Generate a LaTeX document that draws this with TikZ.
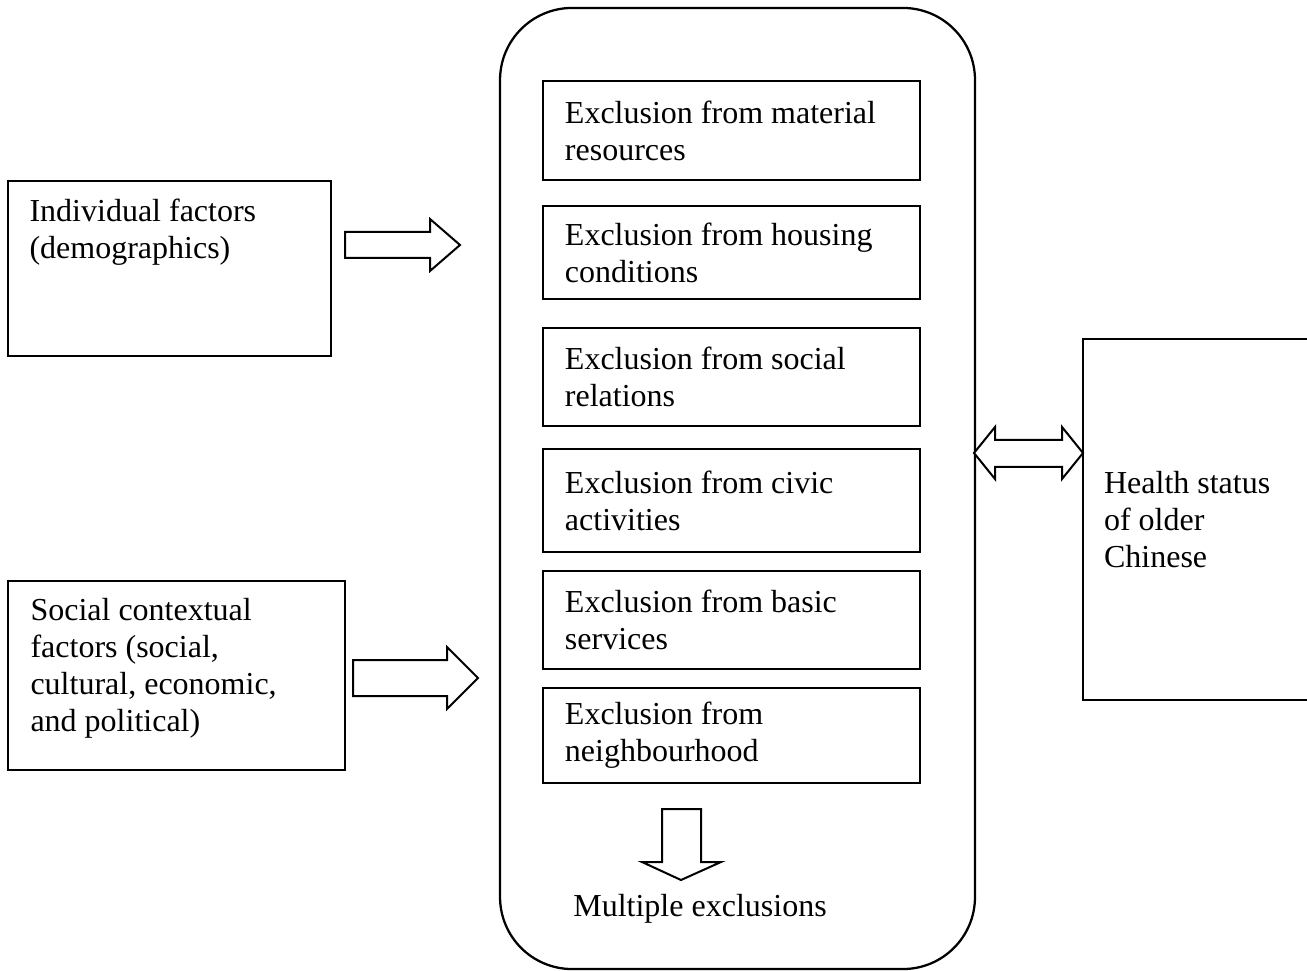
\documentclass[tikz,border=0pt]{standalone}
\usepackage{fontspec}
\setmainfont{Liberation Serif}
\usepackage{tikz}
\usetikzlibrary{positioning}
\tikzstyle{factor} = [rectangle, draw=black, line width=0.75pt, inner sep=0pt]
\tikzstyle{txt} = [inner sep=0pt, align=flush left, font=\fontsize{12}{13.9}\selectfont]
\tikzstyle{excl} = [rectangle, draw=black, line width=0.75pt, minimum width=141.4pt, text width=124.9pt, inner xsep=8.25pt, align=flush left, font=\fontsize{12}{13.9}\selectfont]
\tikzstyle{outer} = [rectangle, rounded corners=27pt, draw=black, line width=0.85pt, minimum width=178.1pt, minimum height=360.4pt]
\tikzstyle{blockarrow} = [draw=black, line width=0.75pt, fill=white, line join=miter]

\begin{document}
\begin{tikzpicture}[x=0.375pt, y=0.375pt]
            \useasboundingbox (0,0) rectangle (1307,-971);
            % Left factors
            \node (indiv) [factor, minimum width=121.1pt, minimum height=65.6pt] at (169.5,-268.5) {};
            \node (indivtext) [txt, anchor=north west] at ([shift={(22,-18)}]indiv.north west) {Individual factors\\(demographics)};
            \node (social) [factor, minimum width=126.4pt, minimum height=70.9pt] at (176.5,-675.5) {};
            \node (socialtext) [txt, anchor=west] at (30,-668) {Social contextual\\factors (social,\\cultural, economic,\\and political)};

            % Exclusion domains
            \node (frame) [outer] at (737.5,-488.5) {};
            \node (material) [excl, minimum height=37.1pt] at (731.5,-130.5) {Exclusion from material\\resources};
            \node (housing) [excl, minimum height=34.9pt] at (731.5,-252.5) {Exclusion from housing\\conditions};
            \node (relations) [excl, minimum height=36.75pt] at (731.5,-377) {Exclusion from social\\relations};
            \node (civic) [excl, minimum height=38.6pt] at (731.5,-500.5) {Exclusion from civic\\activities};
            \node (services) [excl, minimum height=36.75pt] at (731.5,-620) {Exclusion from basic\\services};
            \node (neighbour) [excl, minimum height=35.6pt] at (731.5,-735.5) {Exclusion from\\neighbourhood};
            \node (multiple) [txt] at (700,-909) {Multiple exclusions};

            % Outcome
            \node (health) [factor, anchor=west, minimum height=135.4pt, text width=90pt, inner xsep=7.9pt, align=flush left, font=\fontsize{12}{13.9}\selectfont] at (1082,-519.5) {Health status\\of older\\Chinese};

            % Block arrows
            \draw [blockarrow] (345,-232) -- (430,-232) -- (430,-219) -- (460,-245) -- (430,-271) -- (430,-258) -- (345,-258) -- cycle;
            \draw [blockarrow] (353,-660) -- (447,-660) -- (447,-647) -- (478,-678) -- (447,-709) -- (447,-696) -- (353,-696) -- cycle;
            \draw [blockarrow] (974,-453) -- (995,-427) -- (995,-440) -- (1062,-440) -- (1062,-427) -- (1083,-453) -- (1062,-479) -- (1062,-467) -- (995,-467) -- (995,-479) -- cycle;
            \draw [blockarrow] (662,-809) -- (701,-809) -- (701,-862) -- (721,-862) -- (681,-880) -- (642,-862) -- (662,-862) -- cycle;
        \end{tikzpicture}
\end{document}
